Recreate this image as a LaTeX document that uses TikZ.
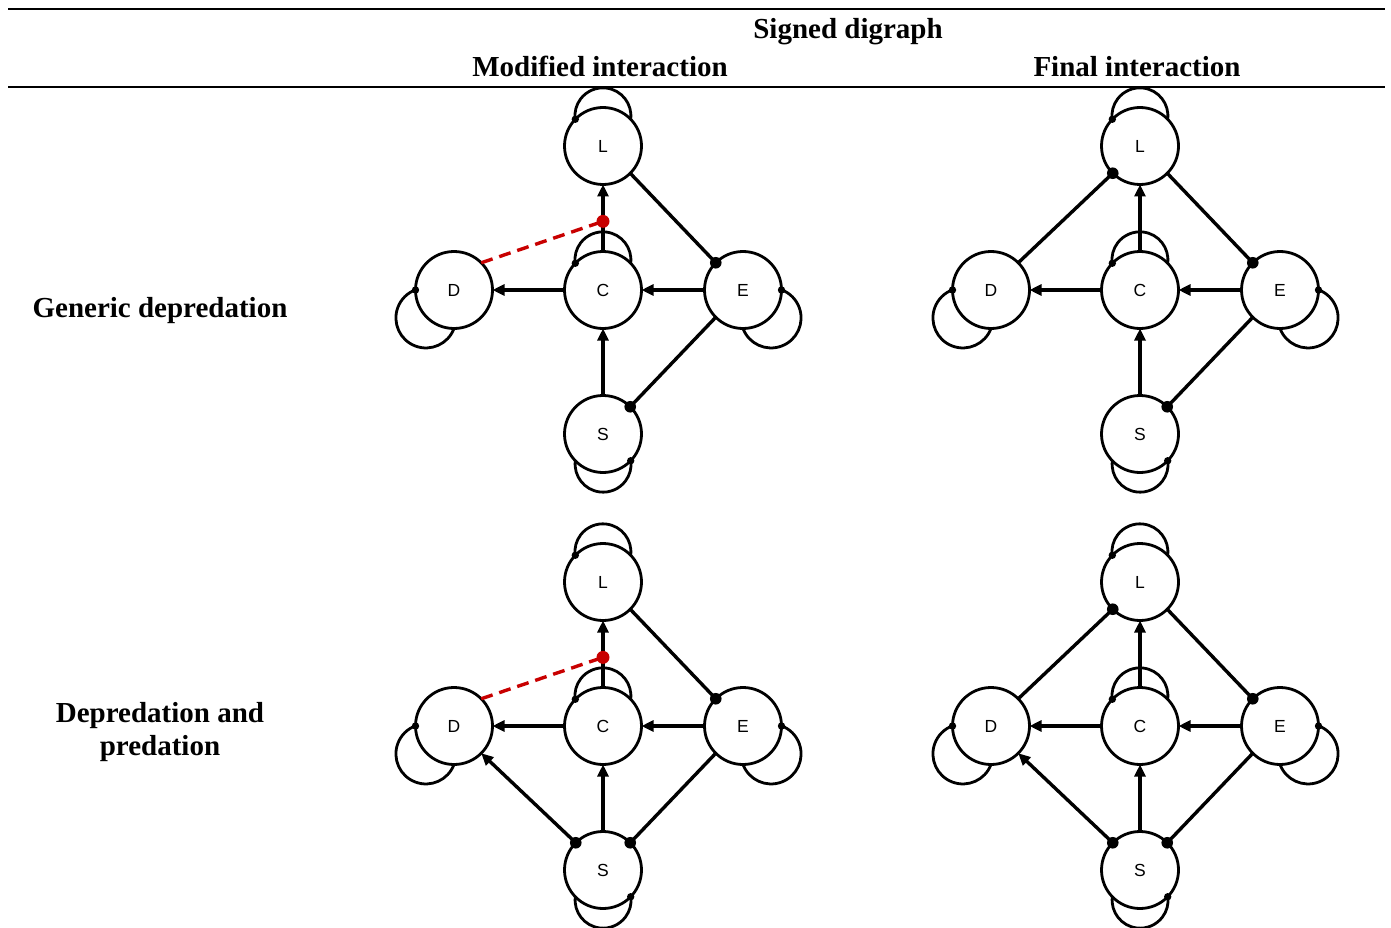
\documentclass[tikz,border=0pt]{standalone}
\usepackage{fontspec}
\setmainfont{Liberation Serif}
\newfontfamily\nodefont{Liberation Sans}
\usetikzlibrary{arrows.meta,calc}
\definecolor{dred}{RGB}{200,0,0}
\tikzset{
  nd/.style={circle,draw,line width=2.8pt,minimum size=77pt,inner sep=0pt,outer sep=0pt,
    font=\nodefont\fontsize{17.5}{20}\selectfont},
  edge/.style={line width=3.4pt},
  posedge/.style={edge,-{Triangle[length=12pt,width=11pt]}},
  loopline/.style={line width=2.8pt},
  negedge/.style={edge,dred,dash pattern=on 12pt off 7pt},
  hdr/.style={font=\bfseries\fontsize{29}{33}\selectfont,anchor=base},
  rowlbl/.style={font=\bfseries\fontsize{29}{33}\selectfont,align=center},
  rulel/.style={line width=2.2pt}
}
\newcommand\sdgraph[3]{%
\begin{scope}[shift={(#2,-#3)}]
  \node[nd] (#1C) at (0,0) {C};
  \node[nd] (#1L) at (0,144) {L};
  \node[nd] (#1D) at (-149,0) {D};
  \node[nd] (#1E) at (140,0) {E};
  \node[nd] (#1S) at (0,-144) {S};
  % self loops
  \draw[loopline] (#1L.44) arc[start angle=-7,end angle=187,radius=28];
  \fill (#1L.136) circle (3.7);
  \draw[loopline] (#1C.44) arc[start angle=-7,end angle=187,radius=28];
  \fill (#1C.136) circle (3.7);
  \draw[loopline] (#1S.224) arc[start angle=173,end angle=367,radius=28];
  \fill (#1S.316) circle (3.7);
  \draw[loopline] (#1D.270) arc[start angle=-20.6,end angle=-249.4,radius=30];
  \fill (#1D.180) circle (3.7);
  \draw[loopline] (#1E.270) arc[start angle=200.6,end angle=429.4,radius=30];
  \fill (#1E.0) circle (3.7);
  % edges
  \draw[posedge] (#1C.north) -- (#1L.south);
  \draw[posedge] (#1C.west) -- (#1D.east);
  \draw[posedge] (#1E.west) -- (#1C.east);
  \draw[posedge] (#1S.north) -- (#1C.south);
  \draw[edge] (#1L.315) -- (#1E.135);
  \fill (#1E.135) circle (5.8);
  \draw[edge] (#1E.225) -- (#1S.45);
  \fill (#1S.45) circle (5.8);
\end{scope}}
\begin{document}
\begin{tikzpicture}[x=1pt,y=1pt]
  \useasboundingbox (0,0) rectangle (1391,-928);
  % table rules
  \draw[rulel] (8,-9) -- (1385,-9);
  \draw[rulel] (8,-87) -- (1385,-87);
  % headers
  \node[hdr] (hsd) at (848,-38.5) {Signed digraph};
  \node[hdr] (hmod) at (600,-76.5) {Modified interaction};
  \node[hdr] (hfin) at (1137,-76.5) {Final interaction};
  \node[hdr] (rgen) at (160,-317) {Generic depredation};
  \node[rowlbl] (rdep) at (160,-732) {Depredation and\\predation};
  % graphs
  \sdgraph{tl}{603}{290}
  \sdgraph{tr}{1140}{290}
  \sdgraph{bl}{603}{726}
  \sdgraph{br}{1140}{726}
  % modified (red) links
  \coordinate (tlR) at ($(tlC.north)!0.45!(tlL.south)$);
  \draw[negedge] (tlD.45) -- (tlR);
  \fill[dred] (tlR) circle (6.5);
  \coordinate (blR) at ($(blC.north)!0.45!(blL.south)$);
  \draw[negedge] (blD.45) -- (blR);
  \fill[dred] (blR) circle (6.5);
  % final D-L links
  \draw[edge] (trD.45) -- (trL.225);
  \fill (trL.225) circle (5.8);
  \draw[edge] (brD.45) -- (brL.225);
  \fill (brL.225) circle (5.8);
  % predation S-D links
  \draw[posedge] (blS.135) -- (blD.315);
  \fill (blS.135) circle (5.8);
  \draw[posedge] (brS.135) -- (brD.315);
  \fill (brS.135) circle (5.8);
\end{tikzpicture}
\end{document}
